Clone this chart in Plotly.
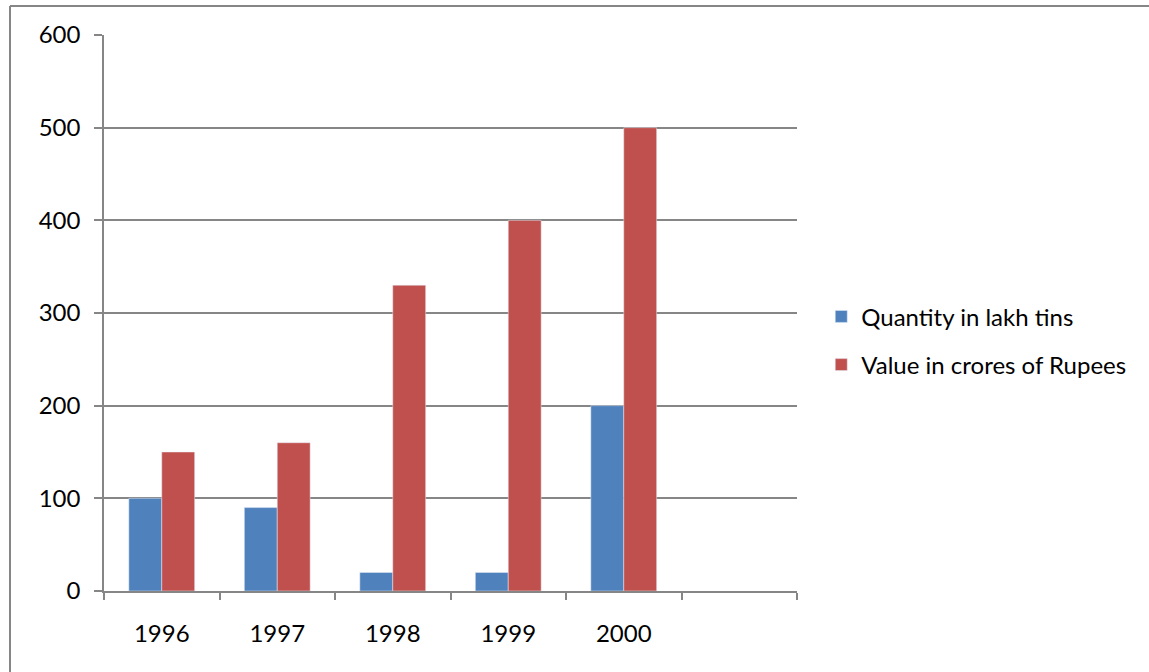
import plotly.graph_objects as go

# years on the x axis, last slot is an empty category like in the original sheet
years = ["1996", "1997", "1998", "1999", "2000", " "]
quantity = [100, 90, 20, 20, 200, None]
value = [150, 160, 330, 400, 500, None]
y_ticks = [0, 100, 200, 300, 400, 500, 600]

blue = "#4F81BD"
red = "#C0504D"
grey = "#868686"
font_name = "Lato"

fig = go.Figure()
fig.add_trace(go.Bar(x=years, y=quantity, name="Quantity in lakh tins",
                     marker_color=blue, legendgroup="q"))
fig.add_trace(go.Bar(x=years, y=value, name="Value in crores of Rupees",
                     marker_color=red, legendgroup="v"))

fig.update_layout(
    width=1149, height=672,
    margin=dict(l=104, r=352, t=35, b=81),
    paper_bgcolor="white", plot_bgcolor="white",
    font=dict(family=font_name, size=24, color="black"),
    barmode="group", bargap=0.43, bargroupgap=0,
    legend=dict(x=1.035, y=0.45, xanchor="left", yanchor="middle",
                tracegroupgap=14, font=dict(size=24)),
    showlegend=True,
)
fig.update_xaxes(type="category", showline=True, linecolor=grey, linewidth=1.5,
                 ticks="outside", ticklen=7, tickcolor=grey, tickwidth=1.5,
                 tickson="boundaries", showgrid=False, ticklabelstandoff=20)
fig.update_yaxes(range=[0, 600], tickvals=y_ticks, showline=True, linecolor=grey,
                 linewidth=1.5, ticks="outside", ticklen=8, tickcolor=grey,
                 tickwidth=1.5, showgrid=True, gridcolor=grey, gridwidth=1.5,
                 zeroline=False, ticklabelstandoff=9)

# chart border: only the top and left edges fall inside the picture
top = 1 + 29 / 556
left = -94 / 693
fig.add_shape(type="line", xref="paper", yref="paper",
              x0=left, x1=1.52, y0=top, y1=top,
              line=dict(color=grey, width=2))
fig.add_shape(type="line", xref="paper", yref="paper",
              x0=left, x1=left, y0=-0.2, y1=top,
              line=dict(color=grey, width=2))

# drop the default page margin so the figure sits at the window's corner
fig.write_html("out.html", config={"displayModeBar": False},
               post_script="document.body.style.margin='0';"
                           "document.body.style.overflow='hidden';")
